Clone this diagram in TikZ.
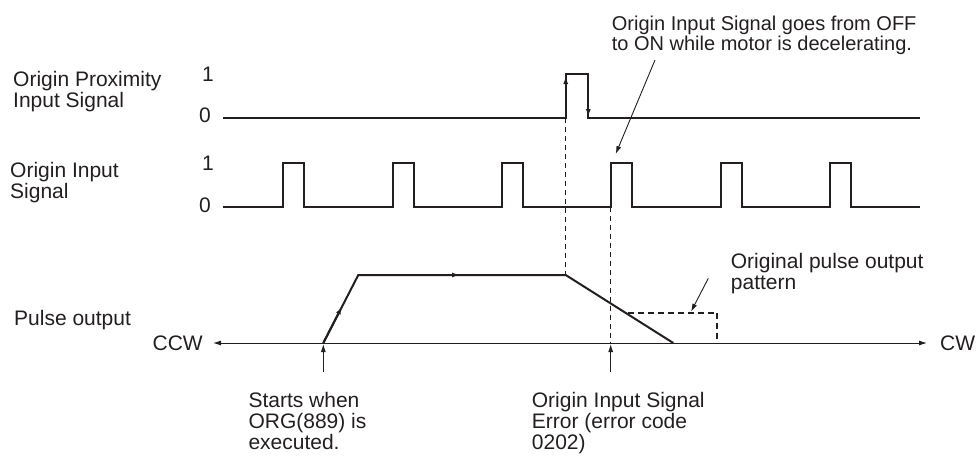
\documentclass[tikz,border=0pt]{standalone}
\usepackage{fontspec}
\setmainfont{Liberation Sans}
\usetikzlibrary{arrows.meta,positioning,calc}
\definecolor{InkColor}{RGB}{35,31,32}
\tikzset{
  sigline/.style={line width=2pt, InkColor},
  thinline/.style={line width=0.9pt, InkColor},
  guideline/.style={line width=1pt, InkColor, dash pattern=on 5pt off 4pt},
  oldline/.style={line width=1.8pt, InkColor, dash pattern=on 6pt off 4pt},
  lbl/.style={font=\fontsize{21}{21}\selectfont, inner sep=0pt, align=left, anchor=base west, text=InkColor},
}

\begin{document}
\begin{tikzpicture}[x=1pt, y=-1pt, >={Latex[length=8pt,width=5pt]}]
    \useasboundingbox (0,0) rectangle (977,456);
    % left side labels (base = last line)
    \node[lbl] (proxlbl) at (13,107.5) {Origin Proximity\\Input Signal};
    \node[lbl] (orglbl) at (10,198.5) {Origin Input\\Signal};
    \node[lbl] (pulselbl) at (14,325) {Pulse output};
    \node[lbl] (proxone) at (202,81) {1};
    \node[lbl] (proxzero) at (199,122) {0};
    \node[lbl] (orgone) at (202,170) {1};
    \node[lbl] (orgzero) at (199,212) {0};
    % origin proximity input signal
    \draw[sigline] (223,118) -- (565.7,118) -- (565.7,74) -- (588.3,74) -- (588.3,118) -- (920,118);
    \draw[sigline,->] (565.7,100) -- (565.7,76);
    \draw[sigline,->] (588.3,95) -- (588.3,117);
    % origin input signal
    \draw[sigline] (223,206.7) \foreach \k in {0,...,5} {
      -- ({283.3+109.3*\k},206.7) -- ++(0,-43.4) -- ++(21,0) -- ++(0,43.4)
    } -- (920,206.7);
    % guides
    \draw[guideline] (565.7,118) -- (565.7,275);
    \draw[guideline] (610.7,206.7) -- (610.7,343);
    % axis
    \node[lbl, anchor=east] (ccw) at (203,343) {CCW};
    \node[lbl, anchor=west] (cw) at (940,343) {CW};
    \draw[thinline,<->,shorten <=10pt,shorten >=13pt] (ccw.east) -- (cw.west);
    % pulse output
    \draw[sigline] (323.3,343) -- (358.3,275) -- (565.7,275) -- (673.3,343);
    \draw[sigline,->] (323.3,343) -- (342,306.5);
    \draw[sigline,->] (400,275) -- (460,275);
    \draw[oldline] (628,312.7) -- (717.3,312.7) -- (717.3,343);
    % notes
    \node[lbl, font=\fontsize{20}{19.5}\selectfont] (decelnote) at (611.7,50) {Origin Input Signal goes from OFF\\to ON while motor is decelerating.};
    \coordinate (decelfrom) at (655,60);
    \coordinate (decelto) at (615.7,154);
    \draw[thinline,->] (decelfrom) -- (decelto);
    \node[lbl] (oldnote) at (730.7,289) {Original pulse output\\pattern};
    \coordinate (oldfrom) at (708.3,278.3);
    \coordinate (oldto) at (691,311.7);
    \draw[thinline,->] (oldfrom) -- (oldto);
    \node[lbl] (startnote) at (248.3,449.3) {Starts when\\ORG(889) is\\executed.};
    \node[lbl] (errnote) at (531.7,449.3) {Origin Input Signal\\Error (error code\\0202)};
    \coordinate (startfrom) at (323.3,372);
    \coordinate (startto) at (323.3,344);
    \coordinate (errfrom) at (610.7,372);
    \coordinate (errto) at (610.7,344);
    \draw[thinline,->] (startfrom) -- (startto);
    \draw[thinline,->] (errfrom) -- (errto);
\end{tikzpicture}
\end{document}
